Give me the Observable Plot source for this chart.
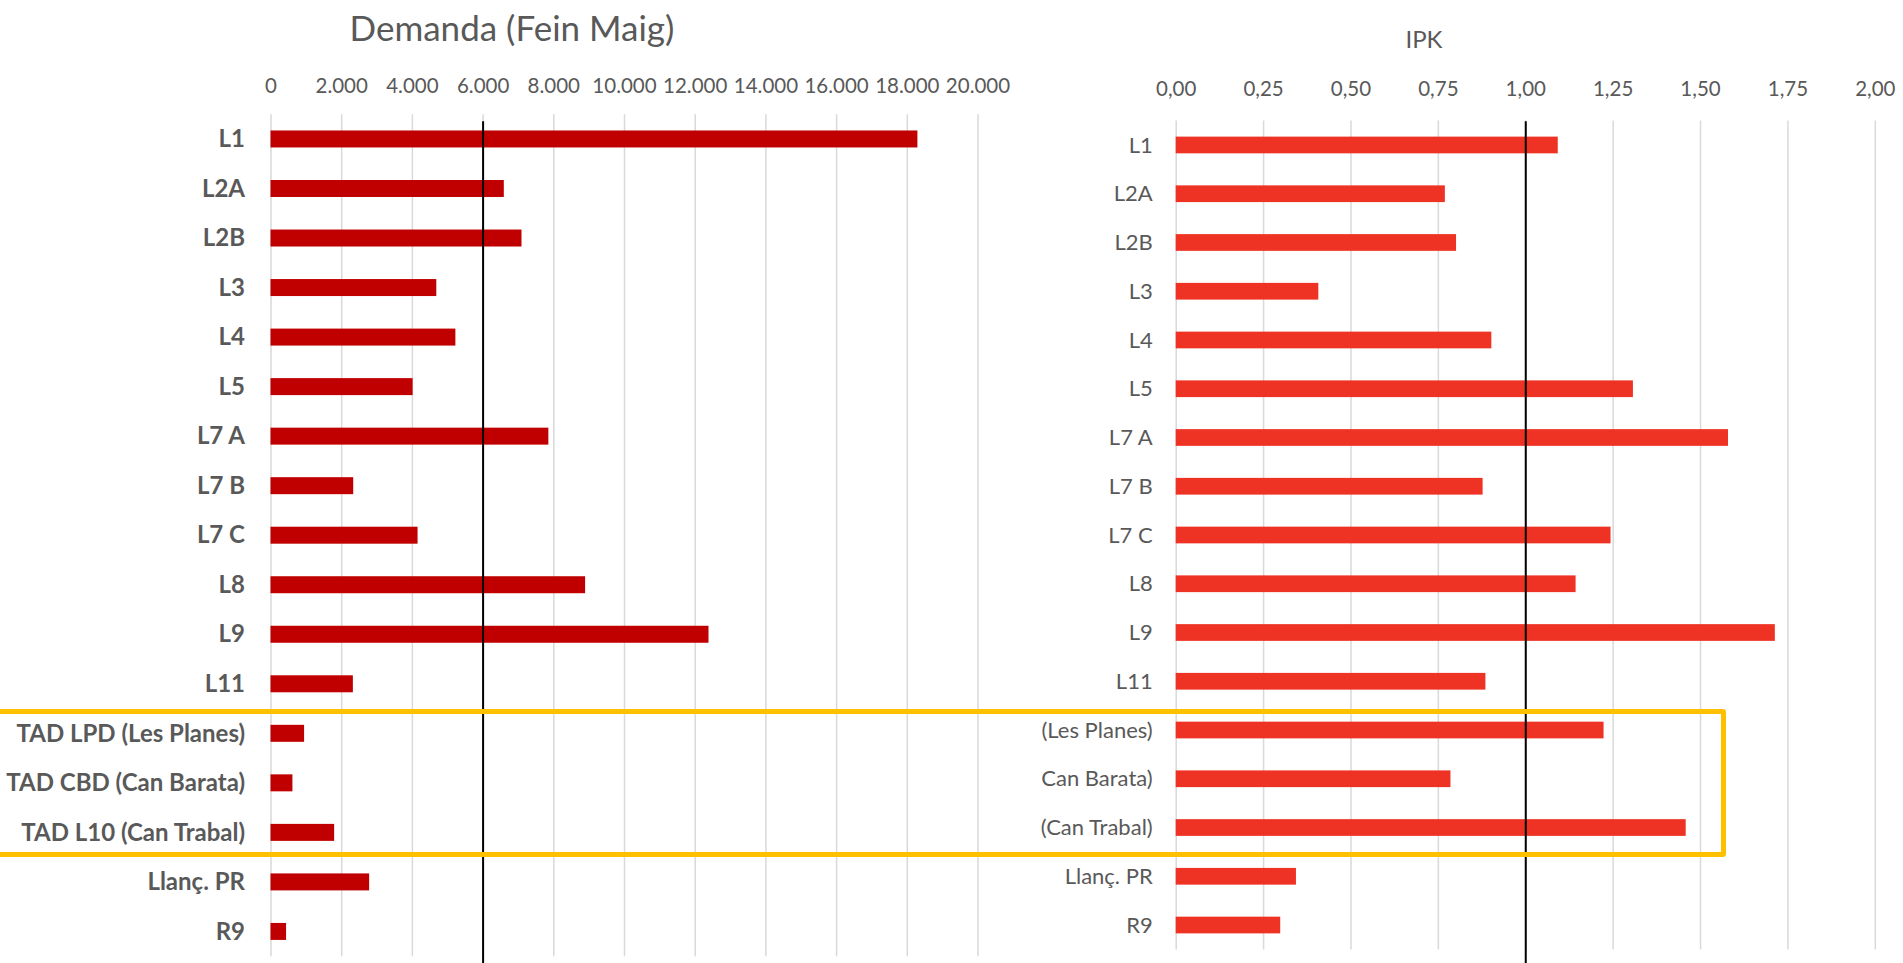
<!DOCTYPE html>
<html><head><meta charset="utf-8">
<script src="https://cdn.jsdelivr.net/npm/d3@7"></script>
<script src="https://cdn.jsdelivr.net/npm/@observablehq/plot@0.6"></script>
<style>
body{margin:0;background:#fff;overflow:hidden}
#wrap{position:relative;width:1903px;height:963px;font-family:Lato,"Open Sans",sans-serif;color:#595959;overflow:hidden}
.title{position:absolute;transform:translate(-50%,-50%);white-space:nowrap;line-height:1}
.panel{position:absolute;top:0}
#box{position:absolute;border:5px solid #FFC000;border-radius:3px;box-sizing:border-box;pointer-events:none}
#left g[aria-label="y-axis tick label"]{font-size:24px;font-weight:bold}
#right g[aria-label="y-axis tick label"]{font-size:22px}
</style></head><body>
<div id="wrap">
 <div class="title" style="left:512px;top:27px;font-size:35px">Demanda (Fein Maig)</div>
 <div class="title" style="left:1424px;top:39px;font-size:24px">IPK</div>
 <div id="left" class="panel" style="left:0"></div>
 <div id="right" class="panel" style="left:1030px"></div>
 <div id="box"></div>
</div>
<script>
const categories = ["L1","L2A","L2B","L3","L4","L5","L7 A","L7 B","L7 C","L8","L9","L11","TAD LPD (Les Planes)","TAD CBD (Can Barata)","TAD L10 (Can Trabal)","Llanç. PR","R9"];
const ipkLabels = ["L1","L2A","L2B","L3","L4","L5","L7 A","L7 B","L7 C","L8","L9","L11","(Les Planes)","Can Barata)","(Can Trabal)","Llanç. PR","R9"];
const demanda = [18300, 6600, 7100, 4690, 5230, 4020, 7860, 2340, 4160, 8900, 12390, 2330, 950, 620, 1800, 2790, 440];
const ipk = [1.093, 0.770, 0.802, 0.408, 0.903, 1.308, 1.580, 0.878, 1.244, 1.144, 1.714, 0.886, 1.224, 0.786, 1.459, 0.344, 0.299];
const demandaTicks = [0, 2000, 4000, 6000, 8000, 10000, 12000, 14000, 16000, 18000, 20000];
const ipkTicks = [0, 0.25, 0.5, 0.75, 1, 1.25, 1.5, 1.75, 2];
const demandaRef = 6000;
const ipkRef = 1;
const highlighted = ["TAD LPD (Les Planes)", "TAD CBD (Can Barata)", "TAD L10 (Can Trabal)"];
const boxRightIPK = 1.575;

const demandaData = categories.map((c, i) => ({cat: c, v: demanda[i]}));
const ipkData = categories.map((c, i) => ({cat: c, v: ipk[i]}));
const fmtThousands = d => d3.format(",")(d).replace(/,/g, ".");
const fmtComma = d => d.toFixed(2).replace(".", ",");
const baseStyle = {fontSize: "20.5px", fontFamily: "Lato, 'Open Sans', sans-serif", color: "#595959", background: "transparent", overflow: "visible"};

const leftPlot = Plot.plot({
  width: 1010, height: 963,
  marginLeft: 270.5, marginRight: 32.5, marginTop: 114.2, marginBottom: 6.8,
  style: baseStyle,
  x: {domain: [0, 20000], label: null},
  y: {domain: categories, paddingInner: 0.657, paddingOuter: 0.3285, align: 0.5, round: false, label: null},
  marks: [
    Plot.gridX(demandaTicks, {stroke: "#d9d9d9", strokeOpacity: 1, strokeWidth: 1.5}),
    Plot.axisX(demandaTicks, {anchor: "top", tickSize: 0, tickPadding: 22, tickFormat: fmtThousands, label: null}),
    Plot.axisY({tickSize: 0, tickPadding: 26, label: null}),
    Plot.barX(demandaData, {x: "v", y: "cat", fill: "#C00000"}),
    Plot.ruleX([demandaRef], {stroke: "#000", strokeWidth: 2, insetTop: 7, insetBottom: -7})
  ]
});
document.getElementById("left").appendChild(leftPlot);

const rightPlot = Plot.plot({
  width: 873, height: 963,
  marginLeft: 145.7, marginRight: 28.2, marginTop: 120.6, marginBottom: 13.6,
  style: baseStyle,
  x: {domain: [0, 2], label: null},
  y: {domain: categories, paddingInner: 0.657, paddingOuter: 0.3285, align: 0.5, round: false, label: null},
  marks: [
    Plot.gridX(ipkTicks, {stroke: "#d9d9d9", strokeOpacity: 1, strokeWidth: 1.5}),
    Plot.axisX(ipkTicks, {anchor: "top", tickSize: 0, tickPadding: 25.5, tickFormat: fmtComma, label: null}),
    Plot.axisY({tickSize: 0, tickPadding: 23.5, tickFormat: d => ipkLabels[categories.indexOf(d)], label: null}),
    Plot.barX(ipkData, {x: "v", y: "cat", fill: "#EE3224"}),
    Plot.ruleX([ipkRef], {stroke: "#000", strokeWidth: 2, insetTop: 0.7, insetBottom: -14})
  ]
});
document.getElementById("right").appendChild(rightPlot);

// highlight box around the TAD rows, derived from the scales
(function () {
  const ys = leftPlot.scale("y");
  const gap = (ys.step - ys.bandwidth) / 2;
  const boxTop = ys.apply(highlighted[0]) - gap;
  const boxBottom = ys.apply(highlighted[highlighted.length - 1]) + ys.bandwidth + gap;
  const boxRight = 1030 + rightPlot.scale("x").apply(boxRightIPK);
  const box = document.getElementById("box");
  box.style.left = "-10px";
  box.style.top = boxTop + "px";
  box.style.width = (boxRight + 10) + "px";
  box.style.height = (boxBottom - boxTop) + "px";
})();
</script>
</body></html>
